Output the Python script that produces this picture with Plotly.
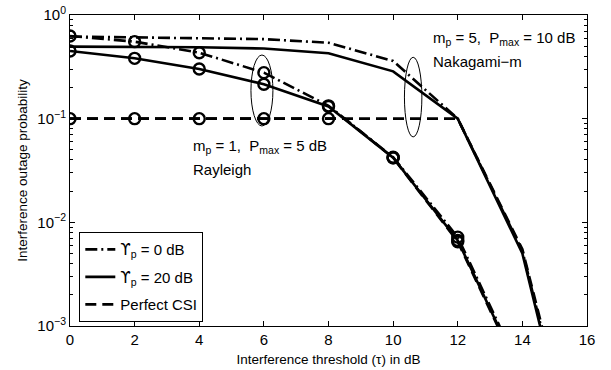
import plotly.graph_objects as go

# ---------------- data ----------------
tau = [0, 2, 4, 6, 8, 10, 12, 14]
tau_fine_ray = [0, 2, 4, 6, 8, 8.5, 10, 12, 14]
tau_nak = [0, 2, 4, 6, 8, 10, 12, 14, 16]

# Rayleigh (m_p = 1, Pmax = 5 dB)
ray_dashdot = [0.627, 0.553, 0.433, 0.278, 0.133, 0.0425, 0.0072, 3.4e-4]
ray_solid = [0.45, 0.382, 0.301, 0.215, 0.131, 0.042, 0.0067, 3.2e-4]
ray_perfect = [0.1, 0.1, 0.1, 0.1, 0.1, 0.1, 0.042, 0.0065, 3.1e-4]
ray_perfect_marker = [True, True, True, True, True, False, True, True, True]

# Nakagami-m (m_p = 5, Pmax = 10 dB)
nak_dashdot = [0.62, 0.61, 0.60, 0.585, 0.54, 0.36, 0.1, 0.0053, 1.6e-5]
nak_solid = [0.495, 0.493, 0.488, 0.475, 0.427, 0.286, 0.1, 0.0050, 1.4e-5]
nak_perfect = [0.1, 0.1, 0.1, 0.1, 0.1, 0.1, 0.1, 0.0055, 1.9e-5]

UPS = '<span style="font-family:DejaVu Sans">ϒ</span>'
legend_names = [UPS + "<sub>p</sub> = 0 dB", UPS + "<sub>p</sub> = 20 dB", "Perfect CSI"]
x_ticks = [0, 2, 4, 6, 8, 10, 12, 14, 16]
y_ticks = [1e-3, 1e-2, 1e-1, 1]
y_ticktext = ["10<sup>−3</sup>", "10<sup>−2</sup>", "10<sup>−1</sup>", "10<sup>0</sup>"]
y_minor = [m * 10.0 ** e for e in (-3, -2, -1) for m in range(2, 10)]

# ---------------- styles ----------------
FONT = "Liberation Sans, Arial, Helvetica, sans-serif"
LW = 2.6
DASHDOT = "12px,4px,2px,4px"
DASHED = "11px,6px"
MK = dict(symbol="circle-open", size=11, color="black", line=dict(width=2.4, color="black"))

fig = go.Figure()

# Nakagami curves (no markers) - used for the legend
fig.add_trace(go.Scatter(x=tau_nak, y=nak_dashdot, mode="lines", name=legend_names[0],
                         line=dict(color="black", width=LW, dash=DASHDOT), legendgroup="a"))
fig.add_trace(go.Scatter(x=tau_nak, y=nak_solid, mode="lines", name=legend_names[1],
                         line=dict(color="black", width=LW), legendgroup="b"))
fig.add_trace(go.Scatter(x=tau_nak, y=nak_perfect, mode="lines", name=legend_names[2],
                         line=dict(color="black", width=LW, dash=DASHED), legendgroup="c"))

# Rayleigh curves with circle markers
fig.add_trace(go.Scatter(x=tau, y=ray_dashdot, mode="lines+markers", showlegend=False,
                         line=dict(color="black", width=LW, dash=DASHDOT), marker=MK))
fig.add_trace(go.Scatter(x=tau, y=ray_solid, mode="lines+markers", showlegend=False,
                         line=dict(color="black", width=LW), marker=MK))
fig.add_trace(go.Scatter(x=tau_fine_ray, y=ray_perfect, mode="lines", showlegend=False,
                         line=dict(color="black", width=LW, dash=DASHED)))
fig.add_trace(go.Scatter(x=[t for t, m in zip(tau_fine_ray, ray_perfect_marker) if m],
                         y=[v for v, m in zip(ray_perfect, ray_perfect_marker) if m],
                         mode="markers", showlegend=False, marker=MK))

# ellipses grouping the curves
fig.add_shape(type="circle", xref="x", yref="y", x0=5.6, x1=6.28, y0=0.085, y1=0.411,
              line=dict(color="black", width=1))
fig.add_shape(type="circle", xref="x", yref="y", x0=10.35, x1=10.89, y0=0.0667, y1=0.391,
              line=dict(color="black", width=1))

# text annotations (y in log10 units)
ann_font = dict(family=FONT, size=15, color="black")
fig.add_annotation(x=3.76, y=-1.273, xref="x", yref="y", xanchor="left", yanchor="middle",
                   text="m<sub>p</sub> = 1,  P<sub>max</sub> = 5 dB", showarrow=False, font=ann_font)
fig.add_annotation(x=3.76, y=-1.495, xref="x", yref="y", xanchor="left", yanchor="middle",
                   text="Rayleigh", showarrow=False, font=ann_font)
fig.add_annotation(x=11.18, y=-0.222, xref="x", yref="y", xanchor="left", yanchor="middle",
                   text="m<sub>p</sub> = 5,  P<sub>max</sub> = 10 dB", showarrow=False, font=ann_font)
fig.add_annotation(x=11.18, y=-0.453, xref="x", yref="y", xanchor="left", yanchor="middle",
                   text="Nakagami−m", showarrow=False, font=ann_font)

axis_common = dict(showline=True, linecolor="black", linewidth=1, mirror="ticks",
                   ticks="inside", tickcolor="black", tickwidth=1, ticklen=5,
                   showgrid=False, zeroline=False, automargin=False,
                   tickfont=dict(family=FONT, size=15, color="black"))

fig.update_xaxes(range=[0, 16], tickvals=x_ticks,
                 title=dict(text="Interference threshold (τ) in dB", standoff=7,
                            font=dict(family=FONT, size=13.5, color="black")),
                 **axis_common)
fig.update_yaxes(type="log", range=[-3, 0], tickvals=y_ticks, ticktext=y_ticktext,
                 minor=dict(tickvals=y_minor, ticks="inside", ticklen=3, tickcolor="black"),
                 title=dict(text="Interference outage probability", standoff=6,
                            font=dict(family=FONT, size=13.5, color="black")),
                 **axis_common)

fig.update_layout(
    width=611, height=370,
    margin=dict(l=69.5, r=24, t=15, b=44),
    plot_bgcolor="white", paper_bgcolor="white",
    font=dict(family=FONT, size=15, color="black"),
    legend=dict(x=0.018, y=0.302, xanchor="left", yanchor="top",
                bordercolor="black", borderwidth=1, bgcolor="white",
                font=dict(family=FONT, size=15, color="black"),
                tracegroupgap=5),
    showlegend=True,
)

fig.write_html("out.html", config={"displayModeBar": False},
               post_script="document.body.style.margin='0px';")
